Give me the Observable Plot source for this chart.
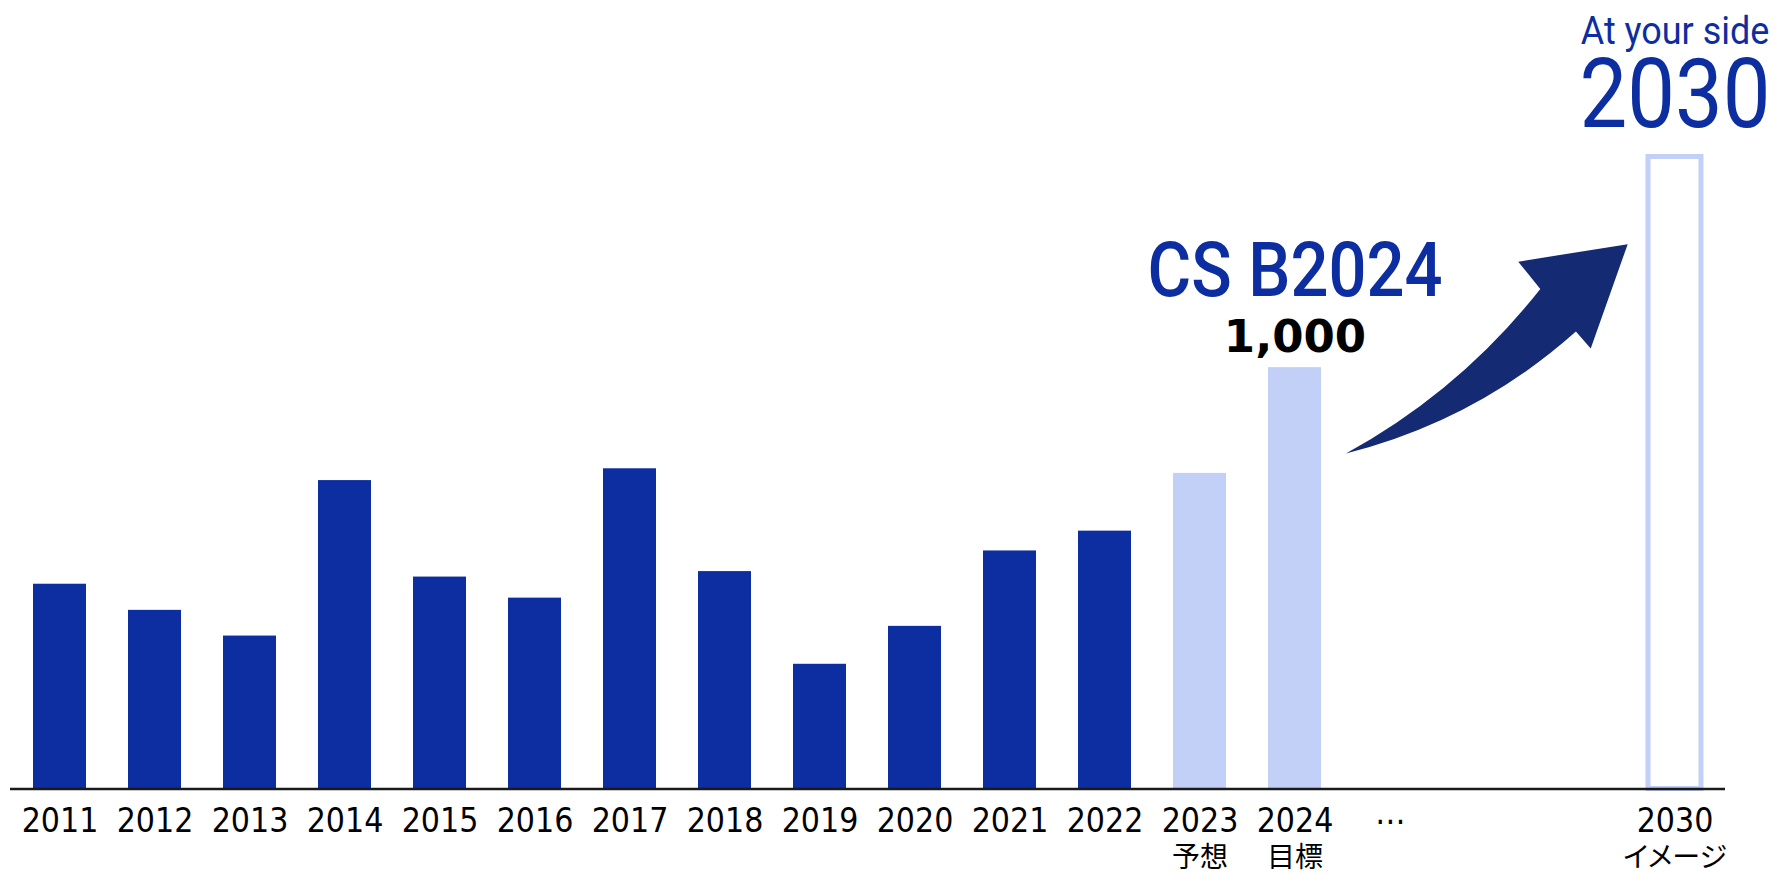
<!DOCTYPE html>
<html>
<head>
<meta charset="utf-8">
<script src="https://cdn.jsdelivr.net/npm/d3@7"></script>
<script src="https://cdn.jsdelivr.net/npm/@observablehq/plot@0.6"></script>
<style>
  html, body { margin: 0; padding: 0; background: #ffffff; }
  #chart svg { display: block; }
  .sub text { font-feature-settings: "palt"; }
</style>
</head>
<body>
<div id="chart"></div>
<script>
// ---- data ----
const years = ["2011","2012","2013","2014","2015","2016","2017","2018","2019","2020","2021","2022","2023","2024"];
const values = [486, 424, 363, 732, 503, 453, 760, 516, 296, 386, 565, 612, 749, 1000];
const kinds = ["actual","actual","actual","actual","actual","actual","actual","actual","actual","actual","actual","actual","forecast","target"];
const slots = [...years, "⋯", " ", "  ", "2030"];
const goalYear = "2030";
const goalValue = 1500;
const subLabelSlots = ["2023", "2024", "2030"];
const subLabelTexts = ["予想", "目標", "イメージ"];
const headline = "CS B2024";
const goalLines = ["At your side", "2030"];
const arrowFrom = {slot: "2024", value: 795};
const arrowTo = {slot: "2030", value: 1292};

// ---- colours ----
const dark = "#0d2ea0";
const light = "#c2cff7";
const navy = "#142a72";

const bars = years.map((year, i) => ({year, value: values[i], kind: kinds[i]}));
const targetBar = bars.filter(d => d.kind === "target");
const goal = [{year: goalYear, value: goalValue}];
const subLabels = subLabelSlots.map((slot, i) => ({slot, text: subLabelTexts[i]}));

const arrowMark = Plot.dot([arrowFrom], {
  x: "slot", y: "value",
  render(index, scales) {
    const x = scales.x, y = scales.y, bw = x.bandwidth();
    const T = [x(arrowFrom.slot) + bw * 1.47, y(arrowFrom.value)];
    const P = [x(arrowTo.slot) - bw * 0.383, y(arrowTo.value)];
    const ux = P[0] - T[0], uy = P[1] - T[1];
    const pt = ([a, b]) => [T[0] + a * ux - b * uy, T[1] + a * uy + b * ux];
    // arrow outline in the tail→tip frame
    const C1 = pt([0.367, 0.051]), N1 = pt([0.724, -0.046]), W1 = pt([0.720, -0.146]);
    const W2 = pt([0.738, 0.176]), N2 = pt([0.733, 0.112]), C2 = pt([0.353, 0.146]);
    const d = `M${T}Q${C1} ${N1}L${W1}L${P}L${W2}L${N2}Q${C2} ${T}Z`;
    const path = document.createElementNS("http://www.w3.org/2000/svg", "path");
    path.setAttribute("d", d);
    path.setAttribute("fill", navy);
    return path;
  }
});

const chart = Plot.plot({
  width: 1777,
  height: 874,
  marginLeft: 10,
  marginRight: 52,
  marginTop: 156.5,
  marginBottom: 85.5,
  style: {fontFamily: "'DejaVu Sans Condensed', 'DejaVu Sans', sans-serif", fontSize: "33.5px", color: "#000", background: "#fff"},
  x: {domain: slots, paddingInner: 0.438, paddingOuter: 0.221, axis: null},
  y: {domain: [0, goalValue], axis: null},
  color: {domain: ["actual", "forecast", "target"], range: [dark, light, light]},
  marks: [
    Plot.barY(bars, {x: "year", y: "value", fill: "kind"}),
    Plot.barY(goal, {x: "year", y: "value", fill: "#fff", stroke: light, strokeWidth: 5}),
    Plot.ruleY([0], {stroke: "#1a1a1a", strokeWidth: 2.5}),
    Plot.axisX({tickSize: 0, tickPadding: 19.5, fontSize: 33.5, fill: "#000", fontStretch: "condensed"}),
    Plot.text(subLabels, {x: "slot", y: () => 0, text: "text", lineAnchor: "top", dy: 58.5, fontSize: 28, fontFamily: "'DejaVu Sans Condensed', 'Noto Sans CJK JP', sans-serif", fill: "#000", className: "sub"}),
    arrowMark,
    Plot.text(targetBar, {x: "year", y: "value", text: d => d3.format(",")(d.value), lineAnchor: "bottom", dy: -16, fontSize: 45, fontWeight: "bold", fontFamily: "'DejaVu Sans', sans-serif", fill: "#000"}),
    Plot.text(targetBar, {x: "year", y: "value", text: () => headline, lineAnchor: "bottom", dy: -72, fontSize: 76, fontWeight: 500, fontFamily: "Roboto, sans-serif", fill: dark, className: "sx88"}),
    Plot.text(goal, {x: "year", y: "value", text: () => goalLines[0], lineAnchor: "bottom", dy: -113.5, fontSize: 39.5, fontFamily: "Roboto, sans-serif", fill: dark, className: "sx91"}),
    Plot.text(goal, {x: "year", y: "value", text: () => goalLines[1], lineAnchor: "bottom", dy: -30.5, fontSize: 96, fontFamily: "Roboto, sans-serif", fill: dark, className: "sx885"})
  ]
});

for (const [cls, s] of [["sx88", 0.88], ["sx91", 0.91], ["sx885", 0.885]]) {
  d3.select(chart).selectAll("g." + cls + " text").attr("transform", function () {
    return (this.getAttribute("transform") || "") + ` scale(${s},1)`;
  });
}

document.getElementById("chart").appendChild(chart);
</script>
</body>
</html>
